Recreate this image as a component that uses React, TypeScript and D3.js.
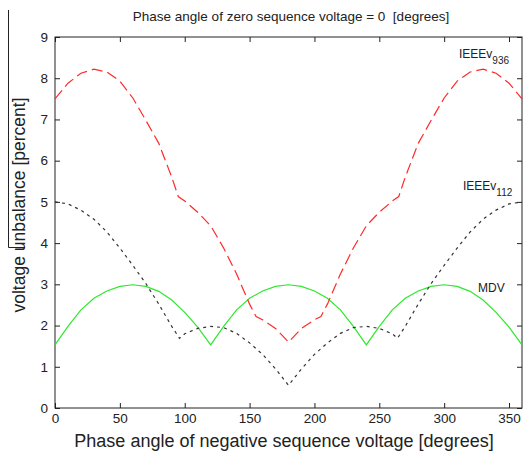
import React, { useEffect, useRef } from 'react';
import * as d3 from 'd3';

// phase angle of negative sequence voltage [deg] -> voltage unbalance [%]
const ieee936Angles = [0, 10, 20, 30, 40, 50, 60, 70, 80, 90, 95, 100, 110, 120, 130, 140, 150, 155, 160, 170, 180,
  190, 200, 205, 210, 220, 230, 240, 250, 260, 265, 270, 280, 290, 300, 310, 320, 330, 340, 350, 360];
const ieee936Values = [7.5, 7.88, 8.12, 8.22, 8.15, 7.93, 7.52, 6.98, 6.42, 5.6, 5.13, 5.02, 4.75, 4.42, 3.88, 3.25, 2.52, 2.22, 2.14, 1.93, 1.6,
  1.93, 2.14, 2.22, 2.52, 3.25, 3.88, 4.42, 4.75, 5.02, 5.13, 5.6, 6.42, 6.98, 7.52, 7.93, 8.15, 8.22, 8.12, 7.88, 7.5];

const ieee112Angles = [0, 10, 20, 30, 40, 50, 60, 70, 80, 90, 96, 100, 110, 120, 130, 140, 150, 160, 170, 180,
  190, 200, 210, 220, 230, 240, 250, 260, 264, 270, 280, 290, 300, 310, 320, 330, 340, 350, 360];
const ieee112Values = [5.0, 4.95, 4.8, 4.58, 4.27, 3.88, 3.46, 3.02, 2.52, 1.98, 1.69, 1.8, 1.93, 1.98, 1.95, 1.81, 1.58, 1.3, 0.95, 0.55,
  0.95, 1.3, 1.58, 1.81, 1.95, 1.98, 1.93, 1.8, 1.69, 1.98, 2.52, 3.02, 3.46, 3.88, 4.27, 4.58, 4.8, 4.95, 5.0];

const mdvAngles = [0, 10, 20, 30, 40, 50, 60, 70, 80, 90, 100, 110, 120, 130, 140, 150, 160, 170, 180,
  190, 200, 210, 220, 230, 240, 250, 260, 270, 280, 290, 300, 310, 320, 330, 340, 350, 360];
const mdvValues = [1.53, 1.98, 2.38, 2.66, 2.84, 2.95, 2.99, 2.95, 2.83, 2.62, 2.32, 1.96, 1.53, 1.98, 2.38, 2.66, 2.84, 2.95, 2.99,
  2.95, 2.84, 2.66, 2.38, 1.98, 1.53, 1.98, 2.38, 2.66, 2.84, 2.95, 2.99, 2.95, 2.83, 2.62, 2.32, 1.96, 1.53];

const xTicks = [0, 50, 100, 150, 200, 250, 300, 350];
const yTicks = [0, 1, 2, 3, 4, 5, 6, 7, 8, 9];

const FONT = '"Liberation Sans", Arial, sans-serif';

const App = () => {
  const ref = useRef<SVGSVGElement>(null);

  useEffect(() => {
    const svg = d3.select(ref.current);
    svg.selectAll('*').remove();

    const left = 55, right = 522, top = 37, bottom = 408;
    const x = d3.scaleLinear().domain([0, 360]).range([left, right]);
    const y = d3.scaleLinear().domain([0, 9]).range([bottom, top]);

    // stray scan line on the left edge
    svg.append('path')
      .attr('d', 'M8.5,10V247.5H25')
      .attr('fill', 'none')
      .attr('stroke', '#222')
      .attr('stroke-width', 1);

    const styleAxis = (g: any, labels: boolean) => {
      g.select('.domain').remove();
      g.selectAll('line').attr('stroke', '#222');
      g.selectAll('text')
        .attr('fill', '#222')
        .style('font-family', FONT)
        .style('font-size', '13.5px');
      if (!labels) g.selectAll('text').remove();
    };

    svg.append('g').attr('transform', `translate(0,${bottom})`)
      .call(d3.axisBottom(x).tickValues(xTicks).tickSizeInner(-5).tickSizeOuter(0).tickPadding(5))
      .call((g: any) => styleAxis(g, true));
    svg.append('g').attr('transform', `translate(0,${top})`)
      .call(d3.axisTop(x).tickValues(xTicks).tickSizeInner(-5).tickSizeOuter(0))
      .call((g: any) => styleAxis(g, false));
    svg.append('g').attr('transform', `translate(${left},0)`)
      .call(d3.axisLeft(y).tickValues(yTicks).tickSizeInner(-5).tickSizeOuter(0).tickPadding(7))
      .call((g: any) => styleAxis(g, true));
    svg.append('g').attr('transform', `translate(${right},0)`)
      .call(d3.axisRight(y).tickValues(yTicks).tickSizeInner(-5).tickSizeOuter(0))
      .call((g: any) => styleAxis(g, false));

    svg.append('rect')
      .attr('x', left).attr('y', top)
      .attr('width', right - left).attr('height', bottom - top)
      .attr('fill', 'none').attr('stroke', '#222').attr('stroke-width', 1);

    const line = d3.line<[number, number]>()
      .x(d => x(d[0]))
      .y(d => y(d[1]));

    const series = [
      { a: mdvAngles, v: mdvValues, color: '#2ee82e', dash: null },
      { a: ieee112Angles, v: ieee112Values, color: '#333', dash: '3,4' },
      { a: ieee936Angles, v: ieee936Values, color: '#ff2a2a', dash: '11,5' },
    ];
    series.forEach(s => {
      svg.append('path')
        .datum(s.a.map((a, i) => [a, s.v[i]] as [number, number]))
        .attr('fill', 'none')
        .attr('stroke', s.color)
        .attr('stroke-width', 1.2)
        .attr('stroke-dasharray', s.dash)
        .attr('d', line);
    });

    // curve labels
    const lab = (tx: number, ty: number, main: string, sub: string) => {
      const t = svg.append('text')
        .attr('x', tx).attr('y', ty)
        .attr('fill', '#222')
        .style('font-family', FONT)
        .style('font-size', '12px')
        .text(main);
      if (sub) {
        t.append('tspan').attr('dy', 6).style('font-size', '10px').text(sub);
      }
    };
    lab(459, 58, 'IEEEv', '936');
    lab(463, 190, 'IEEEv', '112');
    lab(478, 292, 'MDV', '');

    svg.append('text')
      .text('Phase angle of zero sequence voltage = 0  [degrees]')
      .attr('x', 291).attr('y', 21)
      .attr('text-anchor', 'middle')
      .attr('fill', '#222')
      .style('white-space', 'pre')
      .style('font-family', FONT)
      .style('font-size', '13.5px');

    svg.append('text')
      .text('Phase angle of negative sequence voltage [degrees]')
      .attr('x', 284).attr('y', 447)
      .attr('text-anchor', 'middle')
      .attr('fill', '#222')
      .style('font-family', FONT)
      .style('font-size', '18px');

    svg.append('text')
      .text('voltage unbalance [percent]')
      .attr('transform', 'translate(25,205) rotate(-90)')
      .attr('text-anchor', 'middle')
      .attr('fill', '#222')
      .style('font-family', FONT)
      .style('font-size', '17.5px');
  }, []);

  return (
    <svg ref={ref} width={525} height={455}
      style={{ position: 'absolute', left: 0, top: 0, background: '#fff' }} />
  );
};

export default App;
